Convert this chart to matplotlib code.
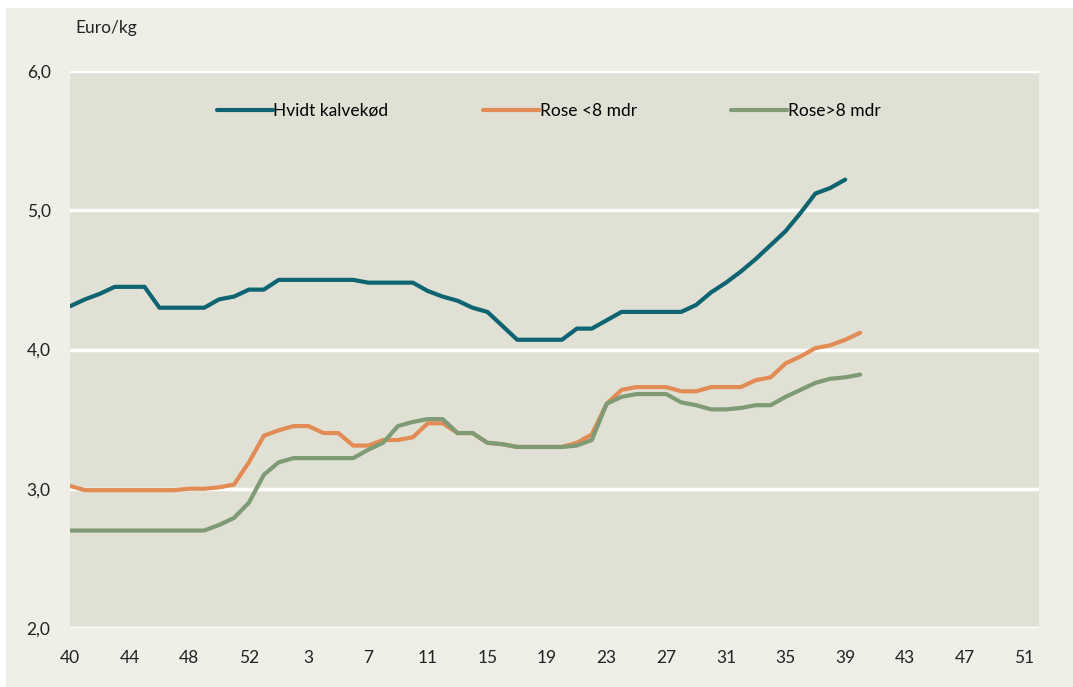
import matplotlib
matplotlib.use("Agg")
import matplotlib.pyplot as plt
from matplotlib.patches import Rectangle

plt.rcParams['font.family'] = ['Lato', 'DejaVu Sans']

# week labels: week 40-53 of first year, then 1-52 of next year
weeks = list(range(40, 54)) + list(range(1, 53))

hvidt = [4.31, 4.36, 4.40, 4.45, 4.45, 4.45, 4.30, 4.30, 4.30, 4.30,
         4.36, 4.38, 4.43, 4.43, 4.50, 4.50, 4.50, 4.50, 4.50, 4.50,
         4.48, 4.48, 4.48, 4.48, 4.42, 4.38, 4.35, 4.30, 4.27, 4.17,
         4.07, 4.07, 4.07, 4.07, 4.15, 4.15, 4.21, 4.27, 4.27, 4.27,
         4.27, 4.27, 4.32, 4.41, 4.48, 4.56, 4.65, 4.75, 4.85, 4.98,
         5.12, 5.16, 5.22]

rose_u8 = [3.02, 2.99, 2.99, 2.99, 2.99, 2.99, 2.99, 2.99, 3.00, 3.00,
           3.01, 3.03, 3.19, 3.38, 3.42, 3.45, 3.45, 3.40, 3.40, 3.31,
           3.31, 3.35, 3.35, 3.37, 3.47, 3.47, 3.40, 3.40, 3.33, 3.32,
           3.30, 3.30, 3.30, 3.30, 3.33, 3.39, 3.61, 3.71, 3.73, 3.73,
           3.73, 3.70, 3.70, 3.73, 3.73, 3.73, 3.78, 3.80, 3.90, 3.95,
           4.01, 4.03, 4.07, 4.12]

rose_o8 = [2.70, 2.70, 2.70, 2.70, 2.70, 2.70, 2.70, 2.70, 2.70, 2.70,
           2.74, 2.79, 2.90, 3.10, 3.19, 3.22, 3.22, 3.22, 3.22, 3.22,
           3.28, 3.33, 3.45, 3.48, 3.50, 3.50, 3.40, 3.40, 3.33, 3.32,
           3.30, 3.30, 3.30, 3.30, 3.31, 3.35, 3.61, 3.66, 3.68, 3.68,
           3.68, 3.62, 3.60, 3.57, 3.57, 3.58, 3.60, 3.60, 3.66, 3.71,
           3.76, 3.79, 3.80, 3.82]

fig = plt.figure(figsize=(10.73, 6.87), dpi=100)
fig.patch.set_facecolor('white')
fig.patches.append(Rectangle((6 / 1073, 0), 1 - 6 / 1073, 1 - 8 / 687,
                             transform=fig.transFigure, facecolor='#efefe8',
                             edgecolor='none', zorder=-10))

ax = fig.add_axes([70 / 1073, 59 / 687, 969 / 1073, 557 / 687])
ax.set_facecolor('#e0e0d5')

ax.plot(range(len(hvidt)), hvidt, color='#0e6471', lw=3, label='Hvidt kalvekød',
        solid_capstyle='round')
ax.plot(range(len(rose_u8)), rose_u8, color='#e38b54', lw=3, label='Rose <8 mdr',
        solid_capstyle='round')
ax.plot(range(len(rose_o8)), rose_o8, color='#7e9b76', lw=3, label='Rose>8 mdr',
        solid_capstyle='round')

ax.set_xlim(0, len(weeks) - 1)
ax.set_ylim(2, 6)
ax.set_yticks([2, 3, 4, 5, 6])
ax.set_yticklabels(['2,0', '3,0', '4,0', '5,0', '6,0'])
ticks = list(range(0, len(weeks), 4))
ax.set_xticks(ticks)
ax.set_xticklabels([str(weeks[i]) for i in ticks])
ax.tick_params(axis='both', length=0, labelsize=12.5, colors='#222222')
ax.tick_params(axis='y', pad=14)
ax.tick_params(axis='x', pad=16)
ax.grid(axis='y', color='white', lw=2.5)
ax.set_axisbelow(True)
for s in ax.spines.values():
    s.set_visible(False)

fig.text(75 / 1073, 1 - 28 / 687, 'Euro/kg', fontsize=12.5, color='#222222',
         va='center', ha='left')

ax.legend(loc='center left', bbox_to_anchor=(140 / 969, 1 - 40 / 557), ncol=3,
          frameon=False, fontsize=12.5, handlelength=3.2, handletextpad=0.05,
          columnspacing=5.45, borderaxespad=0)

fig.savefig('out.png', dpi=100, facecolor=fig.get_facecolor())
